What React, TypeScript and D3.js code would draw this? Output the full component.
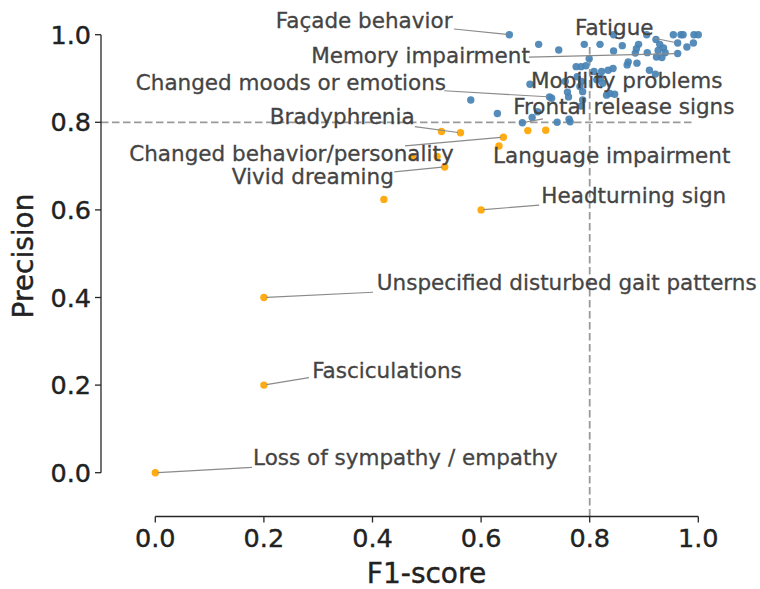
import React from "react";
import * as d3 from "d3";

// Features with precision >= 0.8 or so (blue) and the rest (orange)
const blueF1 = [
  0.652, 0.706, 0.743, 0.79, 0.819, 0.844, 0.905, 0.86, 0.844, 0.89, 0.886, 0.884, 0.906, 0.922, 0.929, 0.936,
  0.926, 0.939, 0.923, 0.933, 0.954, 0.968, 0.972, 0.992, 1.0, 0.962, 0.979, 0.991, 0.962, 0.799, 0.775, 0.784,
  0.793, 0.808, 0.822, 0.834, 0.843, 0.869, 0.871, 0.887, 0.91, 0.921, 0.69, 0.755, 0.759, 0.785, 0.782, 0.787,
  0.777, 0.813, 0.824, 0.831, 0.837, 0.846, 0.726, 0.73, 0.761, 0.581, 0.63, 0.676, 0.694, 0.704, 0.74, 0.762,
  0.764, 0.784, 0.787, 0.82,
];
const bluePrecision = [
  1.0, 0.978, 0.965, 0.978, 0.978, 1.0, 1.0, 0.975, 0.963, 0.978, 0.968, 0.958, 0.959, 0.989, 0.978, 0.97,
  0.964, 0.959, 0.949, 0.948, 1.0, 1.0, 1.0, 1.0, 1.0, 0.981, 0.972, 0.981, 0.957, 0.945, 0.927, 0.927,
  0.929, 0.916, 0.916, 0.919, 0.923, 0.931, 0.938, 0.935, 0.919, 0.91, 0.887, 0.893, 0.869, 0.893, 0.882, 0.87,
  0.904, 0.897, 0.889, 0.862, 0.866, 0.864, 0.858, 0.855, 0.858, 0.851, 0.82, 0.799, 0.811, 0.824, 0.8, 0.807,
  0.801, 0.837, 0.851, 0.901,
];

const orangeF1 = [0.0, 0.2, 0.2, 0.6, 0.421, 0.533, 0.519, 0.474, 0.641, 0.633, 0.527, 0.562, 0.686, 0.719];
const orangePrecision = [0.0, 0.2, 0.4, 0.6, 0.624, 0.698, 0.722, 0.721, 0.766, 0.746, 0.779, 0.776, 0.781, 0.782];

// Annotations: text anchor (left, baseline), line start, line target — all in data units
const labelText = [
  "Façade behavior",
  "Fatigue",
  "Memory impairment",
  "Changed moods or emotions",
  "Mobility problems",
  "Frontal release signs",
  "Bradyphrenia",
  "Changed behavior/personality",
  "Language impairment",
  "Vivid dreaming",
  "Headturning sign",
  "Unspecified disturbed gait patterns",
  "Fasciculations",
  "Loss of sympathy / empathy",
];
const labelX = [0.222, 0.773, 0.287, -0.036, 0.692, 0.659, 0.211, -0.048, 0.622, 0.141, 0.711, 0.408, 0.289, 0.18];
const labelY = [1.015, 1.0, 0.935, 0.874, 0.878, 0.819, 0.796, 0.712, 0.708, 0.659, 0.616, 0.417, 0.216, 0.0176];
const lineFromX = [0.55, 0.917, 0.688, 0.532, null, 0.714, 0.478, 0.46, null, 0.44, 0.707, 0.401, 0.283, 0.178];
const lineFromY = [1.013, 0.9925, 0.949, 0.872, null, 0.808, 0.79, 0.746, null, 0.687, 0.611, 0.412, 0.217, 0.0123];
const lineToX = [0.652, 0.962, 0.962, 0.726, null, 0.676, 0.562, 0.641, null, 0.533, 0.6, 0.2, 0.2, 0.0];
const lineToY = [1.0, 0.981, 0.957, 0.858, null, 0.799, 0.776, 0.766, null, 0.698, 0.6, 0.4, 0.2, 0.0];

const ticks = [0, 0.2, 0.4, 0.6, 0.8, 1.0];
const threshold = 0.8;

const W = 760;
const H = 589;
const FONT = "DejaVu Sans, sans-serif";

export default function App() {
  const x = d3.scaleLinear().domain([0, 1]).range([155.3, 698.3]);
  const y = d3.scaleLinear().domain([0, 1]).range([472.7, 34.7]);
  const spineX = x(-0.1);
  const spineY = y(-0.1);
  const fmt = d3.format(".1f");

  const blue = blueF1.map((v, i) => [v, bluePrecision[i]]);
  const orange = orangeF1.map((v, i) => [v, orangePrecision[i]]);

  return (
    <svg width={W} height={H} style={{ position: "absolute", left: 0, top: 0, background: "#fff" }} fontFamily={FONT}>
      {/* reference lines */}
      <line x1={x(-0.1)} x2={x(0.99)} y1={y(threshold)} y2={y(threshold)} stroke="#9a9a9a" strokeWidth={1.8} strokeDasharray="7.5,3.5" />
      <line x1={x(threshold)} x2={x(threshold)} y1={y(-0.1)} y2={y(0.975)} stroke="#9a9a9a" strokeWidth={1.8} strokeDasharray="7.5,3.5" />

      {/* points */}
      {blue.map(([a, b], i) => (
        <circle key={"b" + i} cx={x(a)} cy={y(b)} r={3.7} fill="#4682b4" fillOpacity={0.92} />
      ))}
      {orange.map(([a, b], i) => (
        <circle key={"o" + i} cx={x(a)} cy={y(b)} r={3.7} fill="#ffa500" fillOpacity={0.92} />
      ))}

      {/* annotation lines */}
      {labelText.map((t, i) => {
        if (lineFromX[i] == null) return null;
        const x1 = x(lineFromX[i] as number);
        const y1 = y(lineFromY[i] as number);
        let x2 = x(lineToX[i] as number);
        let y2 = y(lineToY[i] as number);
        const len = Math.hypot(x2 - x1, y2 - y1);
        const s = 2.5 / len;
        x2 -= (x2 - x1) * s;
        y2 -= (y2 - y1) * s;
        return <line key={"l" + i} x1={x1} y1={y1} x2={x2} y2={y2} stroke="#8a8a8a" strokeWidth={1.2} />;
      })}

      {/* annotation text */}
      {labelText.map((t, i) => (
        <text key={"t" + i} x={x(labelX[i])} y={y(labelY[i])} fontSize={21.5} fill="#444" stroke="#444" strokeWidth={0.3}>
          {t}
        </text>
      ))}

      {/* y axis */}
      <line x1={spineX} x2={spineX} y1={y(0)} y2={y(1)} stroke="#262626" strokeWidth={1.3} />
      {ticks.map((t) => (
        <g key={"yt" + t}>
          <line x1={spineX - 6} x2={spineX} y1={y(t)} y2={y(t)} stroke="#262626" strokeWidth={1.3} />
          <text x={spineX - 10} y={y(t)} dy="0.36em" textAnchor="end" fontSize={25.5} fill="#222" stroke="#222" strokeWidth={0.4}>
            {fmt(t)}
          </text>
        </g>
      ))}

      {/* x axis */}
      <line x1={x(0)} x2={x(1)} y1={spineY} y2={spineY} stroke="#262626" strokeWidth={1.3} />
      {ticks.map((t) => (
        <g key={"xt" + t}>
          <line x1={x(t)} x2={x(t)} y1={spineY} y2={spineY + 6} stroke="#262626" strokeWidth={1.3} />
          <text x={x(t)} y={spineY + 30} textAnchor="middle" fontSize={25.5} fill="#222" stroke="#222" strokeWidth={0.4}>
            {fmt(t)}
          </text>
        </g>
      ))}

      {/* axis titles */}
      <text x={426.5} y={583} textAnchor="middle" fontSize={28} fill="#222" stroke="#222" strokeWidth={0.4}>
        F1-score
      </text>
      <text transform={`translate(33,256) rotate(-90)`} textAnchor="middle" fontSize={28} fill="#222" stroke="#222" strokeWidth={0.4}>
        Precision
      </text>
    </svg>
  );
}
